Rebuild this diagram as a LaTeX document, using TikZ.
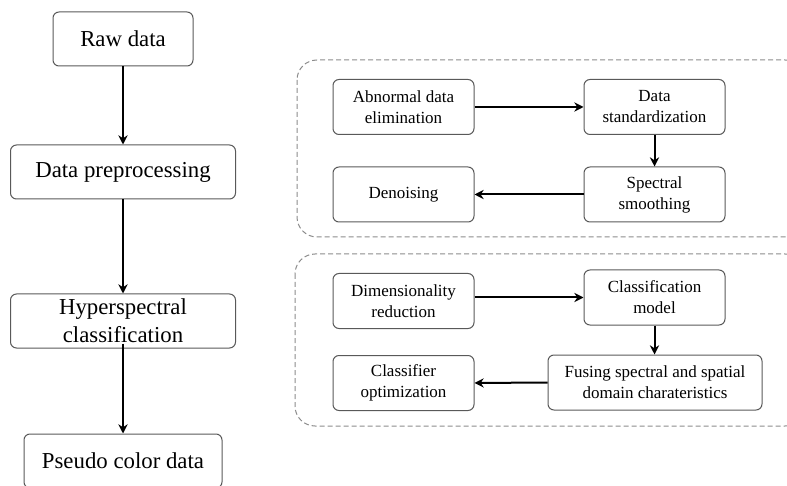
\documentclass[tikz,border=0pt]{standalone}
\usepackage{fontspec}
\setmainfont{Liberation Serif}
\usetikzlibrary{positioning, arrows.meta}

\begin{document}
\begin{tikzpicture}[x=0.5pt, y=-0.5pt, line width=0.5pt,
  bigbox/.style={draw=black!65, rounded corners=3pt, align=center, inner sep=0pt,
    minimum height=27pt, font=\fontsize{11.4}{14}\selectfont},
  smallbox/.style={draw=black!65, rounded corners=3pt, align=center, inner sep=0pt,
    minimum width=70.5pt, minimum height=27.5pt, font=\fontsize{8.5}{10.5}\selectfont},
  group/.style={draw=black!45, dash pattern=on 2.5pt off 1.5pt, rounded corners=10pt},
  arr/.style={-{Stealth[length=4.6pt, width=4.6pt]}, line width=1pt}]
\useasboundingbox (0,0) rectangle (787,486);

% dashed groups
\draw[group] (297,60) rectangle (805,237);
\draw[group] (295,254) rectangle (805,426);

% main flow
\node[bigbox, minimum width=70pt] (raw) at (123,39) {Raw data};
\node[bigbox, minimum width=112.5pt] (prep) at (123,172) {Data preprocessing};
\node[bigbox, minimum width=112.5pt] (hyper) at (123,321) {Hyperspectral\\classification};
\node[bigbox, minimum width=99pt] (pseudo) at (123,461) {Pseudo color data};

% preprocessing steps
\node[smallbox] (abn) at (403.5,107) {Abnormal data\\elimination};
\node[smallbox] (std) at (654.5,107) {Data\\standardization};
\node[smallbox] (smooth) at (654.5,194.5) {Spectral\\smoothing};
\node[smallbox] (denoise) at (403.5,194.5) {Denoising};

% classification steps
\node[smallbox] (dim) at (403.5,301) {Dimensionality\\reduction};
\node[smallbox] (cls) at (654.5,297.5) {Classification\\model};
\node[smallbox, minimum width=107pt] (fuse) at (655,382.5) {Fusing spectral and spatial\\domain charateristics};
\node[smallbox] (opt) at (403.5,383) {Classifier\\optimization};

% arrows
\draw[arr] (raw.south) -- (prep.north);
\draw[arr] (prep.south) -- (hyper.north);
\draw[arr] ([yshift=2.5pt]hyper.south) -- (pseudo.north);

\draw[arr] (abn.east) -- (std.west);
\draw[arr] (std.south) -- (smooth.north);
\draw[arr] (smooth.west) -- (denoise.east);

\draw[arr] (dim.east |- cls.west) -- (cls.west);
\draw[arr] (cls.south) -- (cls.south |- fuse.north);
\draw[arr] (fuse.west) -- (opt.east);
\end{tikzpicture}
\end{document}
